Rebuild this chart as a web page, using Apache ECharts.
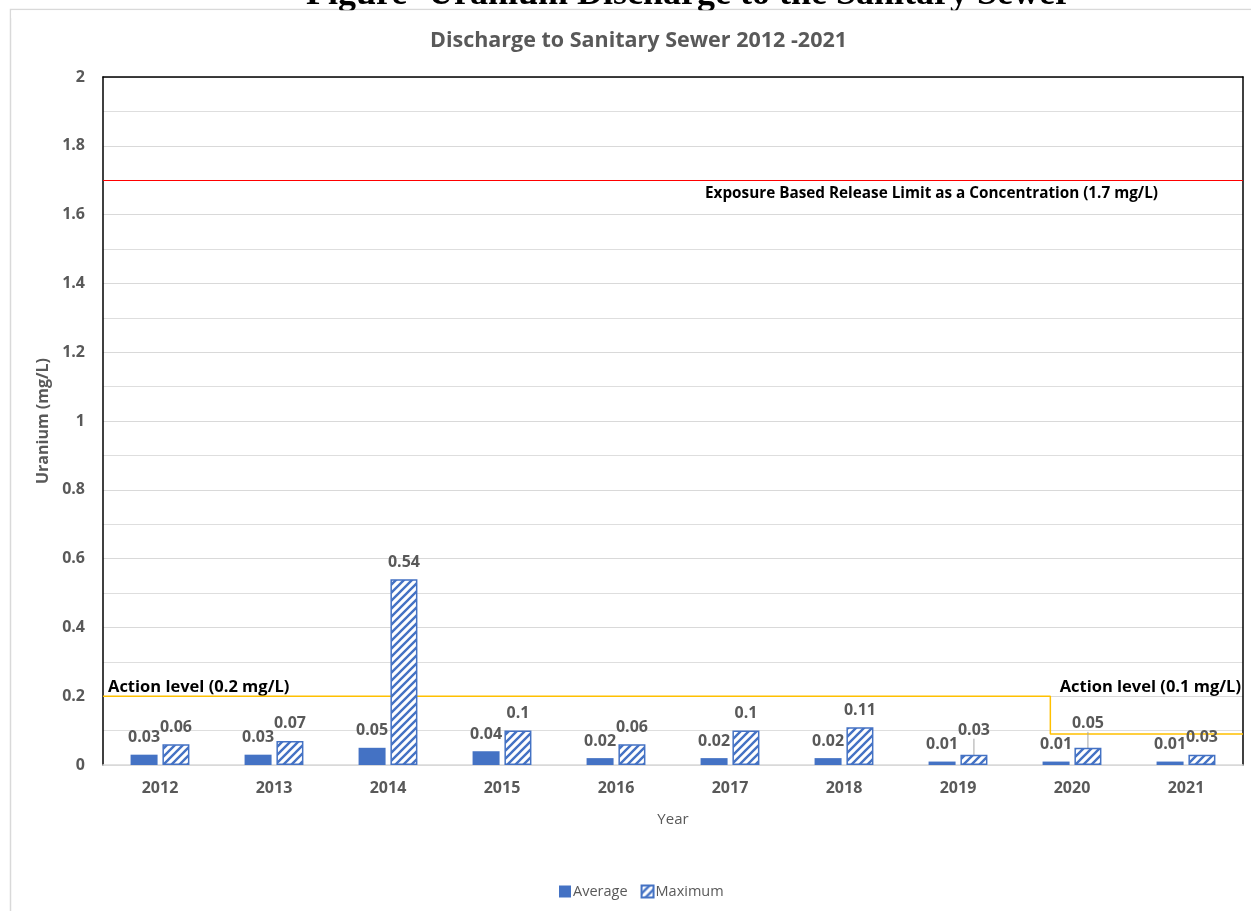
<!DOCTYPE html>
<html><head><meta charset="utf-8">
<script src="https://cdn.jsdelivr.net/npm/echarts@6/dist/echarts.min.js"></script>
<style>html,body{margin:0;padding:0;background:#fff}#c{width:1251px;height:911px}</style>
</head><body><div id="c"></div>
<script>
const years = ['2012','2013','2014','2015','2016','2017','2018','2019','2020','2021'];
const averageValues = [0.03,0.03,0.05,0.04,0.02,0.02,0.02,0.01,0.01,0.01];
const maximumValues = [0.06,0.07,0.54,0.1,0.06,0.1,0.11,0.03,0.05,0.03];
const leaderLabelIndices = [7,8];
const exposureLimit = 1.7;
const actionLevelSteps = [[0,0.2],[8.31,0.2],[8.31,0.09],[10,0.09]];
const titleText = 'Discharge to Sanitary Sewer 2012 -2021';
const captionText = 'Uranium Discharge to the Sanitary Sewer';
const exposureText = 'Exposure Based Release Limit as a Concentration (1.7 mg/L)';
const actionText1 = 'Action level (0.2 mg/L)';
const actionText2 = 'Action level (0.1 mg/L)';

function hatch(){
  const c=document.createElement('canvas'); c.width=8; c.height=8;
  const g=c.getContext('2d');
  g.fillStyle='#fff'; g.fillRect(0,0,8,8);
  g.strokeStyle='#4472C4'; g.lineWidth=2.4;
  g.beginPath();
  g.moveTo(-2,10); g.lineTo(10,-2);
  g.moveTo(-6,6); g.lineTo(6,-6);
  g.moveTo(2,14); g.lineTo(14,2);
  g.stroke();
  return c;
}
const pattern = {image: hatch(), repeat: 'repeat'};
const gray = '#595959';
const font = 'Open Sans';

const chart = echarts.init(document.getElementById('c'), null, {renderer:'canvas'});
const labelStyle = {show:true, position:'top', distance:9, fontSize:16, fontWeight:'bold', color:gray, fontFamily:font};
const maxData = maximumValues.map((v,i)=> leaderLabelIndices.indexOf(i)>=0 ? {value:v, labelLine:{show:true}} : {value:v});

chart.setOption({
  animation:false,
  backgroundColor:'#fff',
  textStyle:{fontFamily:font},
  title:{text:titleText, left:425, top:25, textStyle:{fontSize:21.5, fontWeight:'bold', color:gray, fontFamily:font}},
  legend:{data:['Average','Maximum'], left:554, top:879, itemWidth:12, itemHeight:12, itemGap:13, icon:'rect',
    textStyle:{fontSize:14.5, color:gray, fontFamily:font, padding:[0,0,0,-3]}},
  grid:{left:103, right:8, top:77, bottom:146},
  xAxis:[
    {type:'category', data:years, axisLine:{lineStyle:{color:'#d9d9d9', width:1.5}}, axisTick:{show:false},
     axisLabel:{fontSize:16, fontWeight:'bold', color:gray, margin:15},
     name:'Year', nameLocation:'middle', nameGap:47, nameTextStyle:{fontSize:15, color:gray}},
    {type:'value', min:0, max:10, position:'top', axisLine:{show:true, onZero:false, lineStyle:{color:'#000', width:1.5}},
     axisTick:{show:false}, axisLabel:{show:false}, splitLine:{show:false}}
  ],
  yAxis:[
    {type:'value', min:0, max:2, interval:0.2, axisLine:{show:true, lineStyle:{color:'#000', width:1.5}}, axisTick:{show:false},
     axisLabel:{fontSize:16, fontWeight:'bold', color:gray, margin:18},
     splitLine:{lineStyle:{color:'#d9d9d9', width:1}},
     minorTick:{show:false, splitNumber:2}, minorSplitLine:{show:true, lineStyle:{color:'#dedede', width:1}},
     name:'Uranium (mg/L)', nameLocation:'middle', nameGap:50, nameTextStyle:{fontSize:16, fontWeight:'bold', color:gray}},
    {type:'value', min:0, max:2, position:'right', axisLine:{show:true, lineStyle:{color:'#000', width:1.5}},
     axisTick:{show:false}, axisLabel:{show:false}, splitLine:{show:false}}
  ],
  series:[
    {name:'Average', type:'bar', data:averageValues, barWidth:27, barGap:'18%',
     itemStyle:{color:'#4472C4'}, label:labelStyle},
    {name:'Maximum', type:'bar', data:maxData, barWidth:27,
     itemStyle:{color:pattern, borderColor:'#4472C4', borderWidth:1.5},
     label:labelStyle,
     labelLayout:function(p){ if(leaderLabelIndices.indexOf(p.dataIndex)>=0){ return {dy:-7}; } },
     labelLine:{show:false, lineStyle:{color:'#a6a6a6', width:1}}},
    {name:'Action level', type:'line', xAxisIndex:1, yAxisIndex:0, data:actionLevelSteps, showSymbol:false, silent:true,
     lineStyle:{color:'#FFC000', width:1.5}, z:1,
     markLine:{silent:true, symbol:'none', label:{show:false}, lineStyle:{color:'#FF0000', width:1, type:'solid'},
       data:[{yAxis:exposureLimit}]}}
  ],
  graphic:[
    {type:'rect', z:-10, shape:{x:10.5, y:9.5, width:1400, height:1000}, style:{fill:'none', stroke:'#d9d9d9', lineWidth:1.5}},
    {type:'text', x:306, y:13, style:{text:'Figure', font:'bold 36px "Liberation Serif"', fill:'#000', verticalAlign:'bottom'}},
    {type:'text', x:428, y:13, style:{text:captionText, font:'bold 36px "Liberation Serif"', fill:'#000', verticalAlign:'bottom'}},
    {type:'rect', z:5, shape:{x:11.25, y:10.25, width:1300, height:8}, style:{fill:'#fff'}},
    {type:'text', x:705, y:194, style:{text:exposureText, font:'bold 15.3px "Open Sans"', fill:'#000', verticalAlign:'middle'}},
    {type:'text', x:108, y:687, style:{text:actionText1, font:'bold 16.5px "Open Sans"', fill:'#000', verticalAlign:'middle'}},
    {type:'text', x:1241, y:687, style:{text:actionText2, font:'bold 16.5px "Open Sans"', fill:'#000', verticalAlign:'middle', align:'right'}}
  ]
});
</script></body></html>
